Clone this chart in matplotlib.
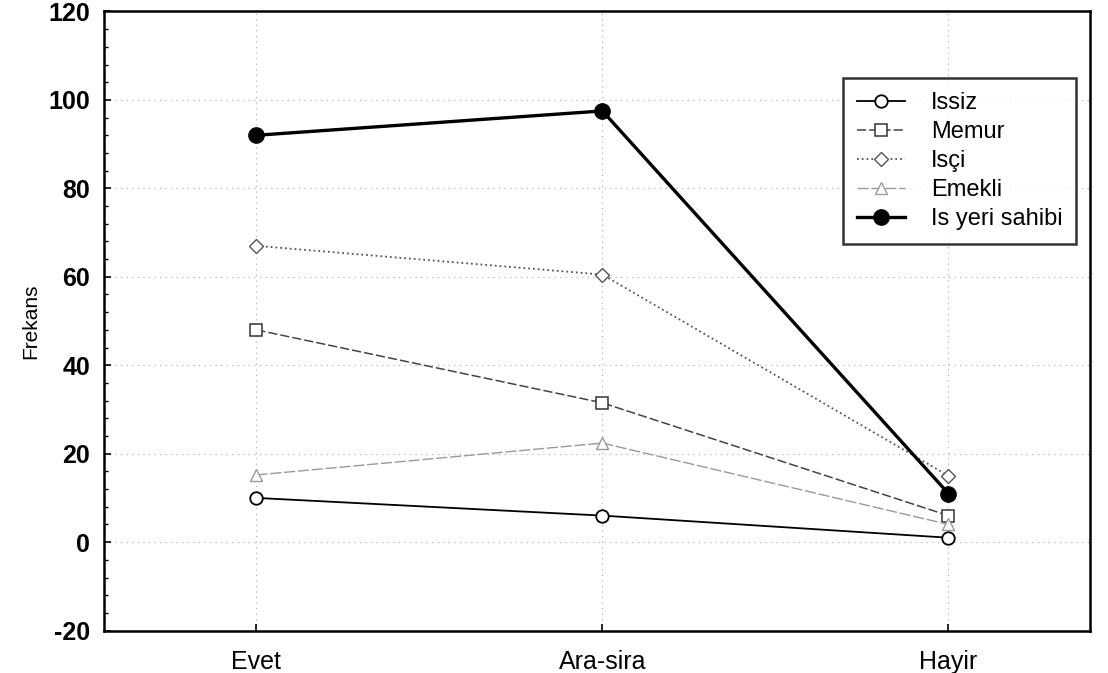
import matplotlib.pyplot as plt
from matplotlib.ticker import MultipleLocator

plt.rcParams['font.family'] = ['Liberation Sans', 'DejaVu Sans']
plt.rcParams['axes.unicode_minus'] = False

kategoriler = ["Evet", "Ara-sira", "Hayir"]

issiz = [10, 6, 1]
memur = [48, 31.5, 6]
isci = [67, 60.5, 15]
emekli = [15.2, 22.4, 4]
isyeri = [92, 97.5, 11]

fig = plt.figure(figsize=(11.08, 6.73), dpi=100)
ax = fig.add_axes([0.094, 0.063, 0.89, 0.92])

x = range(len(kategoriler))

ax.plot(x, issiz, "-o", color="black", lw=1.3, ms=9, mfc="white", mec="black", mew=1.3, label="Issiz")
ax.plot(x, memur, "--s", color="#444444", lw=1.1, ms=9, mfc="white", mec="#333333", mew=1.1, label="Memur",
        dashes=(6, 2))
ax.plot(x, isci, ":D", color="#555555", lw=1.3, ms=7, mfc="white", mec="#555555", mew=1.0, label="Isçi")
ax.plot(x, emekli, "--^", color="#999999", lw=1.0, ms=8, mfc="white", mec="#999999", mew=1.0, label="Emekli",
        dashes=(8, 2))
ax.plot(x, isyeri, "-o", color="black", lw=2.4, ms=11, mfc="black", mec="black", label="Is yeri sahibi")

ax.set_xlim(-0.44, 2.41)
ax.set_ylim(-20, 120)
ax.set_xticks(list(x))
ax.set_xticklabels(kategoriler, fontsize=18)
ax.yaxis.set_major_locator(MultipleLocator(20))
ax.yaxis.set_minor_locator(MultipleLocator(4))
for lab in ax.get_yticklabels():
    lab.set_fontsize(18)
    lab.set_fontweight("bold")
ax.tick_params(axis="x", direction="in", length=5, width=1.2, pad=14)
ax.tick_params(axis="y", direction="in", length=5, width=1.2, pad=10)
ax.tick_params(axis="y", which="minor", direction="in", length=3, width=1)
ax.set_ylabel("Frekans", fontsize=15)
ax.yaxis.set_label_coords(-0.065, 0.5)

ax.grid(True, which="major", color="#aaaaaa", linestyle=(0, (1, 4)), lw=0.8)
for s in ax.spines.values():
    s.set_linewidth(1.8)

leg = ax.legend(loc="upper right", bbox_to_anchor=(0.986, 0.893), fontsize=17, frameon=True, fancybox=False,
                edgecolor="black", handlelength=2.0, handletextpad=1.1, borderpad=0.6, labelspacing=0.3,
                borderaxespad=0.0)
leg.get_frame().set_linewidth(1.8)

fig.savefig("out.png", dpi=100, facecolor="white")
